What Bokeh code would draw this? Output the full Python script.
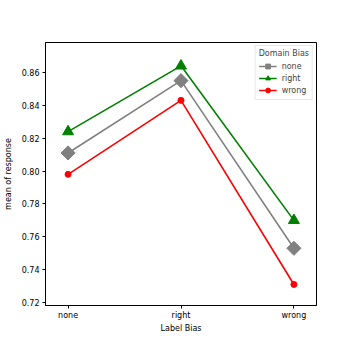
import math
from bokeh.plotting import figure
from bokeh.models import FixedTicker, Range1d, Legend, LegendItem, NumeralTickFormatter
from bokeh.embed import file_html
from bokeh.resources import INLINE

categories = ["none", "right", "wrong"]
series_names = ["none", "right", "wrong"]
vals_none = [0.811, 0.855, 0.753]
vals_right = [0.824, 0.864, 0.770]
vals_wrong = [0.798, 0.843, 0.731]
y_ticks = [0.72, 0.74, 0.76, 0.78, 0.80, 0.82, 0.84, 0.86]

FONT = "DejaVu Sans"
FS = "8px"

p = figure(width=341, height=341, output_backend="svg", toolbar_location=None,
           x_range=Range1d(-0.2, 2.2), y_range=Range1d(0.7182, 0.8782),
           min_border_left=43, min_border_right=27, min_border_top=42, min_border_bottom=36)
p.frame_width = 271
p.frame_height = 263
p.xgrid.visible = False
p.ygrid.visible = False
p.outline_line_color = "black"
p.outline_line_width = 1
p.background_fill_color = "white"

xs = list(range(len(categories)))
p.xaxis.ticker = FixedTicker(ticks=xs)
p.xaxis.major_label_overrides = {i: c for i, c in enumerate(categories)}
p.yaxis.ticker = FixedTicker(ticks=y_ticks)
p.yaxis.formatter = NumeralTickFormatter(format="0.00")
for ax in (p.xaxis, p.yaxis):
    ax.minor_tick_line_color = None
    ax.major_tick_in = 0
    ax.major_tick_out = 3
    ax.axis_line_color = "black"
    ax.major_label_text_font = FONT
    ax.major_label_text_font_size = FS
    ax.major_label_text_color = "black"
    ax.axis_label_text_font = FONT
    ax.axis_label_text_font_size = FS
    ax.axis_label_text_font_style = "normal"
    ax.axis_label_text_color = "black"
    ax.major_label_standoff = 3
p.xaxis.major_label_standoff = 2
p.xaxis.axis_label = "Label Bias"
p.yaxis.axis_label = "mean of response"
p.xaxis.axis_label_standoff = 1
p.yaxis.axis_label_standoff = 6

items = []
specs = [
    (vals_none, "grey", "square", 10, math.pi / 4),
    (vals_right, "green", "triangle", 11, 0),
    (vals_wrong, "red", "circle", 6, 0),
]
for name, (vals, col, mk, sz, ang) in zip(series_names, specs):
    l = p.line(xs, vals, line_color=col, line_width=1.6)
    s = p.scatter(xs, vals, marker=mk, size=sz, angle=ang, fill_color=col, line_color=col)
    items.append(LegendItem(label=name, renderers=[l, s]))

leg = Legend(items=items, location="top_right")
leg.title = "Domain Bias"
leg.title_text_font = FONT
leg.title_text_font_size = FS
leg.title_text_font_style = "normal"
leg.label_text_font = FONT
leg.label_text_font_size = FS
leg.border_line_color = "#d0d0d0"
leg.border_line_width = 1
leg.background_fill_alpha = 0.8
leg.glyph_width = 18
leg.glyph_height = 12
leg.label_height = 12
leg.spacing = 0
leg.padding = 3
leg.margin = 3
leg.label_standoff = 5
leg.title_standoff = 2
p.add_layout(leg)

open("out.html", "w").write(file_html(p, INLINE))
